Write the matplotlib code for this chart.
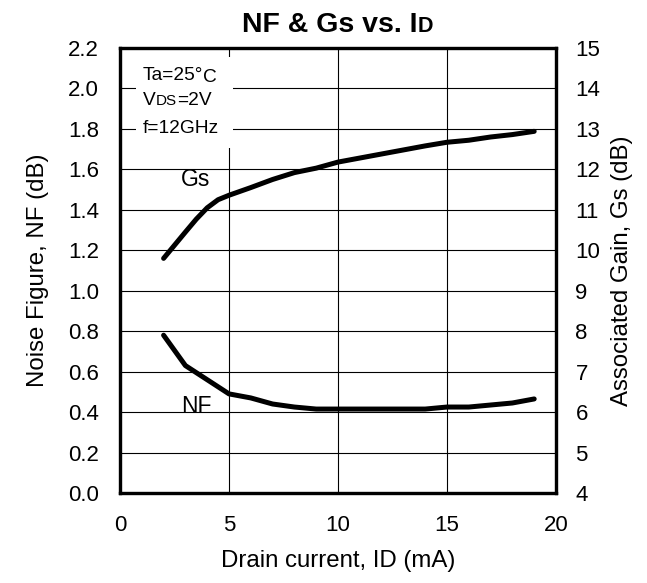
import matplotlib
matplotlib.use("Agg")
import matplotlib.pyplot as plt
from matplotlib.transforms import offset_copy
from matplotlib.patches import Rectangle

plt.rcParams['font.family'] = ['Liberation Sans', 'DejaVu Sans']

# Data
id_ma = [2, 3, 3.5, 4, 4.5, 5, 6, 7, 8, 9, 10, 11, 12, 13, 14, 15, 16, 17, 18, 19]
nf_db = [0.78, 0.63, 0.595, 0.56, 0.525, 0.49, 0.47, 0.44, 0.425, 0.415, 0.415, 0.415,
         0.415, 0.415, 0.415, 0.425, 0.425, 0.435, 0.445, 0.465]
gs_db = [9.8, 10.45, 10.77, 11.05, 11.25, 11.36, 11.55, 11.75, 11.92, 12.03, 12.18,
         12.28, 12.38, 12.48, 12.58, 12.67, 12.72, 12.8, 12.86, 12.94]
xticks = [0, 5, 10, 15, 20]
nf_ticks = [0.0, 0.2, 0.4, 0.6, 0.8, 1.0, 1.2, 1.4, 1.6, 1.8, 2.0, 2.2]
gs_ticks = list(range(4, 16))

W, H = 647, 583
fig = plt.figure(figsize=(W / 100, H / 100), dpi=100)
L, R, T, B = 120, 556, 48, 493
ax = fig.add_axes([L / W, (H - B) / H, (R - L) / W, (B - T) / H])
ax2 = ax.twinx()

ax.set_xlim(0, 20)
ax.set_ylim(0, 2.2)
ax2.set_ylim(4, 15)
ax.set_xticks(xticks)
ax.set_yticks(nf_ticks)
ax.set_yticklabels([f"{v:.1f}" for v in nf_ticks])
ax2.set_yticks(gs_ticks)

ax.grid(True, color='black', lw=0.8)
ax.set_axisbelow(True)
ax.tick_params(axis='y', length=0, labelsize=16, pad=15)
ax.tick_params(axis='x', length=0, labelsize=16, pad=16)
ax2.tick_params(axis='y', length=0, labelsize=16, pad=14)
for a in (ax, ax2):
    for s in a.spines.values():
        s.set_linewidth(2.3)

ax.plot(id_ma, nf_db, color='black', lw=3.6, solid_capstyle='round',
        solid_joinstyle='round', zorder=5)
ax2.plot(id_ma, gs_db, color='black', lw=3.6, solid_capstyle='round',
         solid_joinstyle='round', zorder=5)

ax.set_xlabel("Drain current, ID (mA)", fontsize=17.3, labelpad=10)
ax.set_ylabel("Noise Figure, NF (dB)", fontsize=17.3, labelpad=14)
ax2.set_ylabel("Associated Gain, Gs (dB)", fontsize=17.3, labelpad=8)

ax.text(3.45, 1.55, "Gs", fontsize=16.5, ha='center', va='center', zorder=6)
ax.text(3.5, 0.43, "NF", fontsize=16.5, ha='center', va='center', zorder=4)

# condition box
ax2.add_patch(Rectangle((0.037, 0.775), 0.222, 0.205, transform=ax.transAxes,
                        facecolor='white', edgecolor='none', zorder=3))

fig.canvas.draw()
renderer = fig.canvas.get_renderer()


def rich(x, y, pieces, transform, ha='left', weight='normal', zorder=7):
    widths = []
    for txt, size, dy in pieces:
        t = fig.text(0, 0, txt, fontsize=size, fontweight=weight)
        widths.append(t.get_window_extent(renderer).width)
        t.remove()
    total = sum(widths)
    dx = -total / 2 if ha == 'center' else 0
    for (txt, size, dy), w in zip(pieces, widths):
        tr = offset_copy(transform, fig=fig, x=dx, y=dy, units='dots')
        fig.text(x, y, txt, fontsize=size, fontweight=weight, transform=tr,
                 ha='left', va='baseline', zorder=zorder)
        dx += w


rich(0.5, 1.036, [("NF & Gs vs. I", 20.5, 0), ("D", 15.5, 0)], ax.transAxes,
     ha='center', weight='bold')
rich(0.053, 0.928, [("Ta=25°", 13.8, 0), ("C", 13.8, -2)], ax.transAxes)
rich(0.053, 0.872, [("V", 13.8, 0), ("DS", 11, 0), ("=2V", 13.8, 0)], ax.transAxes)
rich(0.053, 0.809, [("f=12GHz", 13.8, 0)], ax.transAxes)

fig.savefig("out.png", dpi=100)
